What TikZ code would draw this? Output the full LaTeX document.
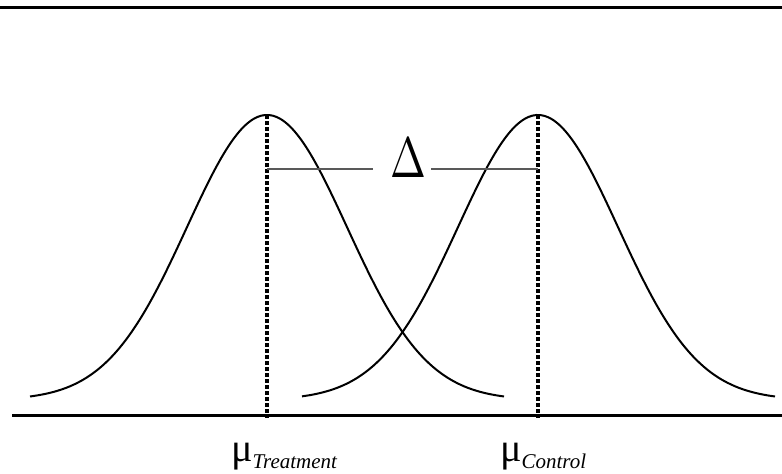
\documentclass[tikz,border=0pt]{standalone}
\usepackage{fontspec}
\setmainfont{Liberation Serif}
\begin{document}
\begin{tikzpicture}[x=1pt,y=-1pt,
  curve/.style={line width=2pt,black},
  meanline/.style={line width=3.2pt,dash pattern=on 3.5pt off 2.5pt,black},
  deltaline/.style={line width=1.6pt,black!65},
  rule/.style={line width=3pt,black},
  mulabel/.style={anchor=base west,inner sep=0pt}]
\useasboundingbox (0,0) rectangle (782,474);
\draw[rule] (0,7) -- (782,7);
% coordinates
\coordinate (pT) at (267,115);
\coordinate (bT) at (267,418);
\coordinate (pC) at (538,115);
\coordinate (bC) at (538,418);
\coordinate (axL) at (12,415);
\coordinate (axR) at (782,415);
% curves
\draw[curve,smooth] plot[domain=-237:237,samples=120] ({267+\x},{115+285*(1-exp(-0.5*(\x/80)*(\x/80)))});
\draw[curve,smooth] plot[domain=-236:237,samples=120] ({538+\x},{115+285*(1-exp(-0.5*(\x/80)*(\x/80)))});
% axis
\draw[rule] (axL) -- (axR);
% mean lines
\draw[meanline] (pT) -- (bT);
\draw[meanline] (pC) -- (bC);
% delta
\node[inner sep=0pt,anchor=base] (delta) at (408,177) {\scalebox{4.3}[5.7]{$\Delta$}};
\coordinate (dT) at (267,169);
\coordinate (dC) at (538,169);
\coordinate (dL) at (373,169);
\coordinate (dR) at (431,169);
\draw[deltaline] (dT) -- (dL);
\draw[deltaline] (dR) -- (dC);
% labels
\node[mulabel] (muT) at (231,461) {\fontsize{40}{40}\selectfont μ\raisebox{-7pt}{\fontsize{21}{21}\selectfont\itshape Treatment}};
\node[mulabel] (muC) at (500,461) {\fontsize{40}{40}\selectfont μ\raisebox{-7pt}{\fontsize{21}{21}\selectfont\itshape Control}};
\end{tikzpicture}
\end{document}
